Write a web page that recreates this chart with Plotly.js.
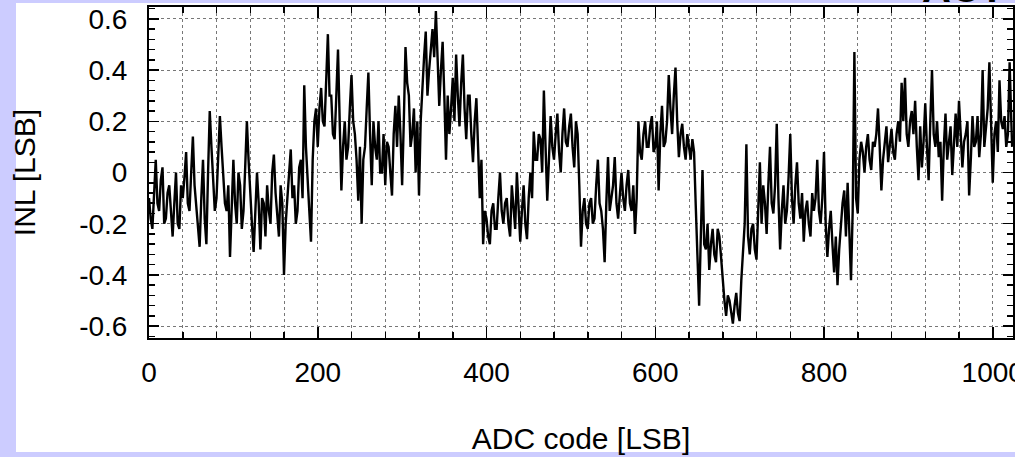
<!DOCTYPE html>
<html>
<head>
<meta charset="utf-8">
<script src="https://cdn.plot.ly/plotly-3.0.1.min.js"></script>
<style>
html,body{margin:0;padding:0;background:#ccccff;}
#chart{width:1015px;height:457px;}
</style>
</head>
<body>
<div id="chart"></div>
<script>
// ADC codes (LSB), first set of samples
const adcCodeA = [
  0,4,8,12,16, 20,24,28,32,36, 40,44,48,52,56, 60,64,68,72,76,
  80,84,88,92,96, 100,104,108,112,116, 120,124,128,132,136, 140,144,148,152,156,
  160,164,168,172,176, 180,184,188,192,196, 200,204,208,212,216, 220,224,228,232,236,
  240,244,248,252,256, 260,264,268,272,276, 280,284,288,292,296, 300,304,308,312,316,
  320,324,328,332,336, 340,344,348,352,356, 360,364,368,372,376, 380,384,388,392,396,
  400,404,408,412,416, 420,424,428,432,436, 440,444,448,452,456, 460,464,468,472,476,
  480,484,488,492,496, 500,504,508,512,516, 520,524,528,532,536, 540,544,548,552,556,
  560,564,568,572,576, 580,584,588,592,596, 600,604,608,612,616, 620,624,628,632,636,
  640,644,648,652,656, 660,664,668,672,676, 680,684,688,692,696, 700,704,708,712,716,
  720,724,728,732,736, 740,744,748,752,756, 760,764,768,772,776, 780,784,788,792,796,
  800,804,808,812,816, 820,824,828,832,836, 840,844,848,852,856, 860,864,868,872,876,
  880,884,888,892,896, 900,904,908,912,916, 920,924,928,932,936, 940,944,948,952,956,
  960,964,968,972,976, 980,984,988,992,996, 1000,1004,1008,1012,1016, 1020,1023
];
// INL values (LSB) at adcCodeA
const inlValueA = [
  -0.10,-0.22,0.05,-0.15,0.02, -0.18,-0.05,-0.25,0.00,-0.22, -0.10,0.08,-0.15,0.14,-0.12, -0.29,0.05,-0.28,0.24,-0.05,
  -0.10,0.22,0.00,-0.15,-0.33, 0.05,-0.20,-0.05,-0.15,0.20, -0.10,-0.31,0.00,-0.30,-0.12, -0.05,-0.20,0.07,-0.15,-0.05,
  -0.40,-0.10,0.09,-0.05,-0.15, 0.05,0.34,-0.05,-0.27,0.20, 0.10,0.33,0.18,0.54,0.30, 0.13,0.48,-0.07,0.20,0.10,
  0.38,0.15,-0.11,-0.20,0.10, 0.39,-0.05,0.10,0.20,0.00, -0.05,0.10,-0.09,0.26,0.30, -0.05,0.49,0.30,0.15,0.00,
  -0.09,0.35,0.55,0.40,0.56, 0.63,0.26,0.51,0.05,0.15, 0.37,0.46,0.18,0.46,0.13, 0.30,0.04,0.29,-0.10,-0.28,
  -0.18,-0.28,-0.12,-0.22,0.00, -0.20,-0.10,-0.25,-0.15,0.00, -0.27,-0.05,-0.26,0.00,0.16, 0.05,0.13,0.32,-0.11,0.22,
  0.05,0.23,0.00,0.25,0.10, 0.23,0.02,0.15,-0.29,-0.10, -0.22,-0.10,-0.18,0.05,-0.15, -0.35,0.06,-0.10,0.06,-0.18,
  0.00,-0.15,0.01,-0.15,-0.24, 0.20,0.05,0.20,0.10,0.22, 0.10,-0.07,0.26,0.12,0.38, 0.15,0.41,0.06,0.19,0.05,
  0.10,0.13,-0.13,-0.52,0.01, -0.30,-0.38,-0.22,-0.35,-0.25, -0.43,-0.56,-0.50,-0.59,-0.47, -0.58,-0.30,0.11,-0.32,-0.20,
  -0.34,0.04,-0.05,-0.24,0.10, -0.16,0.19,-0.30,-0.05,-0.15, 0.15,-0.20,0.04,-0.18,-0.27, -0.11,-0.25,-0.15,0.05,-0.20,
  0.08,-0.33,-0.15,-0.39,-0.44, -0.20,-0.07,-0.04,-0.42,0.47, -0.16,0.12,0.00,0.15,0.01, 0.10,0.25,-0.07,0.12,0.04,
  0.17,0.05,0.20,0.35,0.37, 0.10,0.24,0.28,-0.03,0.02, 0.27,-0.03,0.40,0.10,0.06, -0.11,0.23,0.13,-0.01,0.23,
  0.28,0.02,0.15,-0.09,0.22, 0.12,0.06,0.40,0.19,0.43, -0.04,0.20,0.36,0.17,0.10, 0.43,0.10
];
// ADC codes (LSB), second set of samples
const adcCodeB = [
  2,6,10,14,18, 22,26,30,34,38, 42,46,50,54,58, 62,66,70,74,78,
  82,86,90,94,98, 102,106,110,114,118, 122,126,130,134,138, 142,146,150,154,158,
  162,166,170,174,178, 182,186,190,194,198, 202,206,210,214,218, 222,226,230,234,238,
  242,246,250,254,258, 262,266,270,274,278, 282,286,290,294,298, 302,306,310,314,318,
  322,326,330,334,338, 342,346,350,354,358, 362,366,370,374,378, 382,386,390,394,398,
  402,406,410,414,418, 422,426,430,434,438, 442,446,450,454,458, 462,466,470,474,478,
  482,486,490,494,498, 502,506,510,514,518, 522,526,530,534,538, 542,546,550,554,558,
  562,566,570,574,578, 582,586,590,594,598, 602,606,610,614,618, 622,626,630,634,638,
  642,646,650,654,658, 662,666,670,674,678, 682,686,690,694,698, 702,706,710,714,718,
  722,726,730,734,738, 742,746,750,754,758, 762,766,770,774,778, 782,786,790,794,798,
  802,806,810,814,818, 822,826,830,834,838, 842,846,850,854,858, 862,866,870,874,878,
  882,886,890,894,898, 902,906,910,914,918, 922,926,930,934,938, 942,946,950,954,958,
  962,966,970,974,978, 982,986,990,994,998, 1002,1006,1010,1014,1018, 1022
];
// INL values (LSB) at adcCodeB
const inlValueB = [
  -0.18,-0.05,-0.12,-0.03,-0.20, -0.08,-0.15,-0.12,-0.20,-0.05, -0.02,-0.12,0.00,-0.05,-0.20, -0.10,-0.18,0.00,0.10,-0.15,
  0.05,0.10,-0.12,-0.05,-0.10, -0.12,0.00,-0.22,0.02,0.05, -0.20,-0.15,-0.12,-0.10,-0.25, -0.15,0.00,-0.08,-0.25,-0.12,
  -0.20,0.00,-0.10,-0.20,0.02, -0.10,0.10,-0.15,0.05,0.25, 0.25,0.20,0.35,0.30,0.15, 0.30,0.20,0.10,0.05,0.25,
  0.20,0.05,0.10,0.05,0.25, 0.15,0.20,0.05,0.00,0.15, 0.12,0.00,0.15,0.10,0.15, 0.20,0.35,0.10,0.25,0.20,
  0.20,0.45,0.30,0.50,0.45, 0.45,0.40,0.30,0.30,0.25, 0.20,0.30,0.35,0.25,0.30, 0.15,0.20,0.10,0.05,-0.15,
  -0.25,-0.15,-0.22,-0.10,-0.15, -0.12,-0.20,-0.05,-0.22,-0.12, -0.15,-0.20,-0.10,-0.10,0.05, 0.15,0.00,0.10,0.05,0.10,
  0.15,0.08,0.15,0.12,0.18, 0.10,0.20,-0.05,-0.15,-0.20, -0.12,-0.20,-0.05,-0.12,-0.22, -0.12,-0.15,-0.05,-0.12,-0.08,
  -0.10,-0.05,-0.12,-0.05,-0.10, 0.08,0.15,0.10,0.18,0.08, 0.20,0.15,0.10,0.20,0.25, 0.30,0.20,0.15,0.10,0.15,
  0.05,0.08,-0.30,-0.25,-0.28, -0.20,-0.28,-0.32,-0.22,-0.33, -0.50,-0.48,-0.55,-0.52,-0.55, -0.42,-0.20,-0.25,-0.22,-0.30,
  -0.18,-0.20,-0.12,-0.05,-0.12, -0.05,-0.10,-0.15,-0.20,-0.02, -0.10,-0.05,-0.12,-0.08,-0.15, -0.20,-0.08,-0.10,-0.15,-0.10,
  -0.20,-0.22,-0.28,-0.25,-0.30, -0.12,-0.25,-0.20,-0.15,-0.10, 0.05,0.08,0.10,0.05,0.12, 0.15,0.10,0.05,0.18,0.12,
  0.08,0.15,0.12,0.20,0.15, 0.20,0.15,0.10,0.18,0.12, 0.10,0.20,0.15,0.20,0.12, 0.10,0.05,0.18,0.12,0.10,
  0.15,0.12,0.20,0.05,0.10, 0.22,0.15,0.10,0.25,0.20, 0.15,0.08,0.20,0.22,0.15, 0.20
];
const xTickVals = [0,200,400,600,800,1000];
const xTickText = ["0","200","400","600","800","1000"];
const yTickVals = [-0.6,-0.4,-0.2,0,0.2,0.4,0.6];
const yTickText = ["-0.6","-0.4","-0.2","0","0.2","0.4","0.6"];

// merge both sample sets in code order
const samples = adcCodeA.map((c, i) => [c, inlValueA[i]])
  .concat(adcCodeB.map((c, i) => [c, inlValueB[i]]))
  .sort((a, b) => a[0] - b[0]);

const FONT = "Liberation Sans, Arial, Helvetica, sans-serif";
const L = 149, R = 2, T = 7, B = 119, W = 1015, H = 457;
const pw = W - L - R, ph = H - T - B;
const px2x = p => (p - L) / pw;
const py2y = p => (H - B - p) / ph;

const trace = {
  x: samples.map(s => s[0]), y: samples.map(s => s[1]), type: 'scatter', mode: 'lines',
  line: {color: '#000000', width: 2.4}, hoverinfo: 'skip', showlegend: false
};

const layout = {
  width: W, height: H,
  margin: {l: L, r: R, t: T, b: B, pad: 0},
  paper_bgcolor: '#ccccff',
  plot_bgcolor: '#ffffff',
  font: {family: FONT, size: 28, color: '#000'},
  showlegend: false,
  xaxis: {
    range: [0, 1024], tickmode: 'array', tickvals: xTickVals, ticktext: xTickText,
    ticks: 'inside', ticklen: 11, tickwidth: 1.5, tickcolor: '#000',
    showline: true, linewidth: 2, linecolor: '#000', mirror: 'allticks',
    showgrid: true, gridcolor: '#777', gridwidth: 1, griddash: 'dot',
    zeroline: false, ticklabelstandoff: 8, ticklabeloverflow: 'allow',
    tickfont: {family: FONT, size: 28},
    minor: {dtick: 40, tick0: 0, ticks: 'inside', ticklen: 6, tickwidth: 1.5, tickcolor: '#000',
            showgrid: true, gridcolor: '#777', gridwidth: 1, griddash: 'dot'},
    title: {text: 'ADC code [LSB]', font: {family: FONT, size: 30}, standoff: 41},
    automargin: false
  },
  yaxis: {
    range: [-0.646, 0.646], tickmode: 'array', tickvals: yTickVals, ticktext: yTickText,
    ticks: 'inside', ticklen: 10, tickwidth: 1.5, tickcolor: '#000',
    showline: true, linewidth: 2, linecolor: '#000', mirror: 'allticks',
    showgrid: true, gridcolor: '#777', gridwidth: 1, griddash: 'dot',
    zeroline: false, ticklabelstandoff: 14, ticklabeloverflow: 'allow',
    tickfont: {family: FONT, size: 28},
    minor: {dtick: 0.04, tick0: 0, ticks: 'inside', ticklen: 6, tickwidth: 1.5, tickcolor: '#000', showgrid: false},
    title: {text: 'INL [LSB]', font: {family: FONT, size: 30}, standoff: 35},
    automargin: false
  },
  shapes: [{
    type: 'rect', xref: 'paper', yref: 'paper', layer: 'below',
    x0: px2x(16), x1: px2x(1016), y0: py2y(452), y1: py2y(3),
    fillcolor: '#ffffff', line: {width: 0}
  }],
  annotations: [{
    text: '<b>ACT</b>', xref: 'paper', yref: 'paper', showarrow: false,
    x: px2x(920), xanchor: 'left', y: py2y(11.5), yanchor: 'bottom',
    font: {family: FONT, size: 40, color: '#000'}
  }]
};

Plotly.newPlot('chart', [trace], layout, {staticPlot: true, displayModeBar: false});
</script>
</body>
</html>
